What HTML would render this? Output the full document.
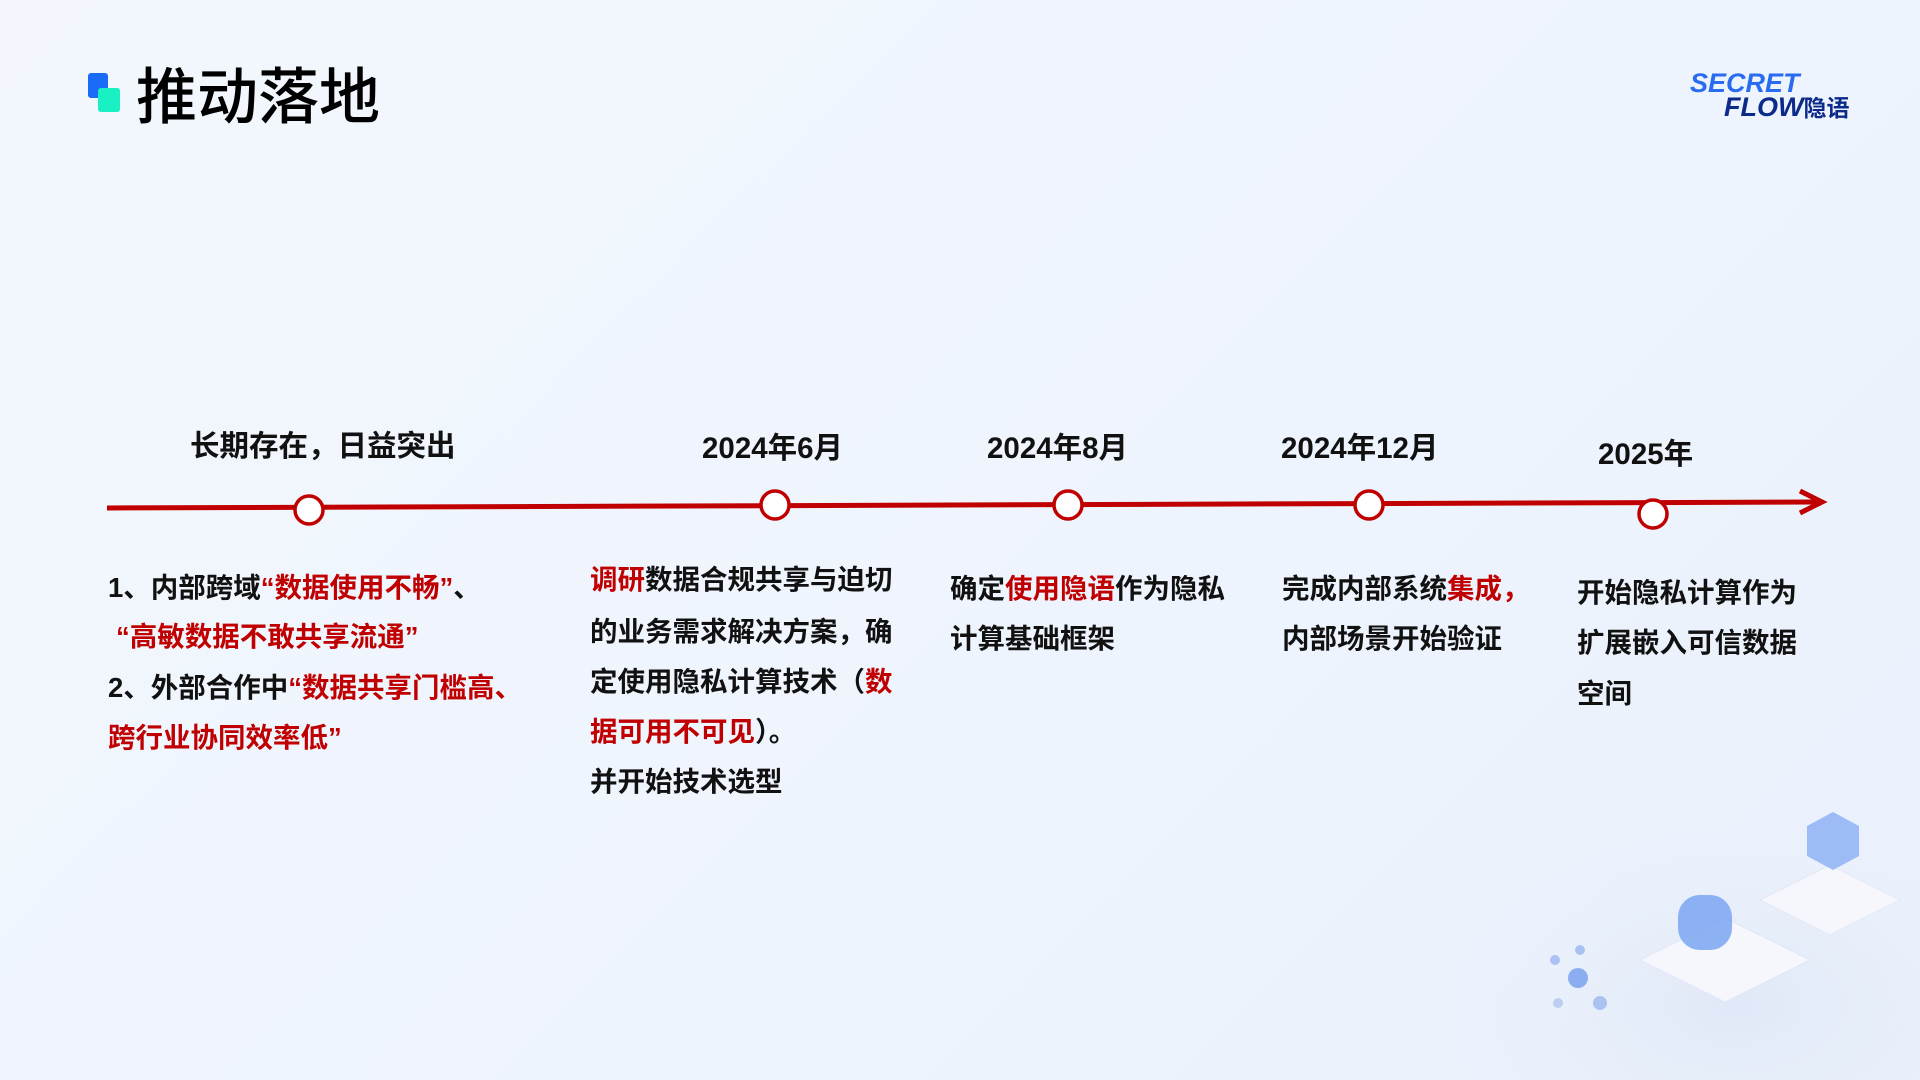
<!DOCTYPE html>
<html><head><meta charset="utf-8"><style>
*{margin:0;padding:0;box-sizing:border-box}
body{width:1920px;height:1080px;position:relative;overflow:hidden;background:linear-gradient(135deg,#f3f7fd 0%,#eef4fd 60%,#e9f0fb 100%);font-family:"Liberation Sans","Noto Sans CJK SC",sans-serif;color:#111}
.t{position:absolute;white-space:nowrap;font-weight:bold;font-size:27.5px;line-height:30px}
.r{color:#c00000}
.lb{position:absolute;white-space:nowrap;font-weight:bold;font-size:29.5px;line-height:32px;transform:translateY(-50%)}
</style></head><body>
<div style="position:absolute;left:88px;top:73px;width:20px;height:25px;background:#1a6bf5;border-radius:3px"></div>
<div style="position:absolute;left:98px;top:88px;width:22px;height:24px;background:#19f0c4;border-radius:3px"></div>
<div style="position:absolute;left:136px;top:62px;font-size:61px;line-height:70px;font-weight:500;color:#000">推动落地</div>
<div style="position:absolute;left:1690px;top:70px;font-style:italic;font-weight:bold;font-size:27px;line-height:26px;color:#2a6cf0;letter-spacing:0px">SECRET</div>
<div style="position:absolute;left:1724px;top:94px;font-style:italic;font-weight:bold;font-size:27px;line-height:26px;color:#0b2a8a;letter-spacing:0px">FLOW<span style="font-size:23px;font-style:normal">隐语</span></div>

<svg style="position:absolute;left:0;top:0" width="1920" height="1080">
<defs><radialGradient id="g" cx="0.7" cy="0.8" r="0.6"><stop offset="0" stop-color="#dde6f6" stop-opacity="0.8"/><stop offset="1" stop-color="#eef4fd" stop-opacity="0"/></radialGradient></defs>
<rect x="1300" y="700" width="620" height="380" fill="url(#g)"/>
<path d="M1640 960 l85 -42 l85 42 l-85 42z" fill="#f5f7fc" stroke="#e2e8f3"/>
<path d="M1760 900 l70 -35 l70 35 l-70 35z" fill="#f5f7fc" stroke="#e2e8f3"/>
<rect x="1678" y="895" width="54" height="55" rx="22" fill="#7aa6f2" opacity="0.85"/>
<path d="M1807 826 l26 -14 l26 14 v30 l-26 14 l-26 -14z" fill="#8fb1f4" opacity="0.85"/>
<circle cx="1578" cy="978" r="10" fill="#8aaef0"/><circle cx="1555" cy="960" r="5" fill="#a9c2f2"/><circle cx="1600" cy="1003" r="7" fill="#a9c2f2"/><circle cx="1580" cy="950" r="5" fill="#a9c2f2"/><circle cx="1558" cy="1003" r="5" fill="#bccdf2"/>
<line x1="107" y1="508" x2="1818" y2="502" stroke="#c00000" stroke-width="5"/>
<path d="M1800 491 L1822 502 L1800 513" fill="none" stroke="#c00000" stroke-width="5" stroke-linejoin="miter"/>
<g fill="#fff" stroke="#c00000" stroke-width="3.5">
<circle cx="309" cy="510" r="14"/><circle cx="775" cy="505" r="14"/><circle cx="1068" cy="505" r="14"/><circle cx="1369" cy="505" r="14"/><circle cx="1653" cy="514" r="14"/>
</g>
</svg>

<div class="lb" style="left:190px;top:447px">长期存在，日益突出</div>
<div class="lb" style="left:702px;top:449px">2024年6月</div>
<div class="lb" style="left:987px;top:449px">2024年8月</div>
<div class="lb" style="left:1281px;top:449px">2024年12月</div>
<div class="lb" style="left:1598px;top:455px">2025年</div>

<div class="t" style="left:108px;top:573px">1、内部跨域<span class="r">“数据使用不畅”</span>、</div>
<div class="t r" style="left:116px;top:622px">“高敏数据不敢共享流通”</div>
<div class="t" style="left:108px;top:673px">2、外部合作中<span class="r">“数据共享门槛高、</span></div>
<div class="t r" style="left:108px;top:723px">跨行业协同效率低”</div>

<div class="t" style="left:590px;top:565px"><span class="r">调研</span>数据合规共享与迫切</div>
<div class="t" style="left:590px;top:617px">的业务需求解决方案，确</div>
<div class="t" style="left:590px;top:667px">定使用隐私计算技术（<span class="r">数</span></div>
<div class="t" style="left:590px;top:717px"><span class="r">据可用不可见</span>）。</div>
<div class="t" style="left:590px;top:767px">并开始技术选型</div>

<div class="t" style="left:950px;top:574px">确定<span class="r">使用隐语</span>作为隐私</div>
<div class="t" style="left:950px;top:624px">计算基础框架</div>

<div class="t" style="left:1282px;top:574px">完成内部系统<span class="r">集成，</span></div>
<div class="t" style="left:1282px;top:624px">内部场景开始验证</div>

<div class="t" style="left:1577px;top:578px">开始隐私计算作为</div>
<div class="t" style="left:1577px;top:628px">扩展嵌入可信数据</div>
<div class="t" style="left:1577px;top:679px">空间</div>
</body></html>
